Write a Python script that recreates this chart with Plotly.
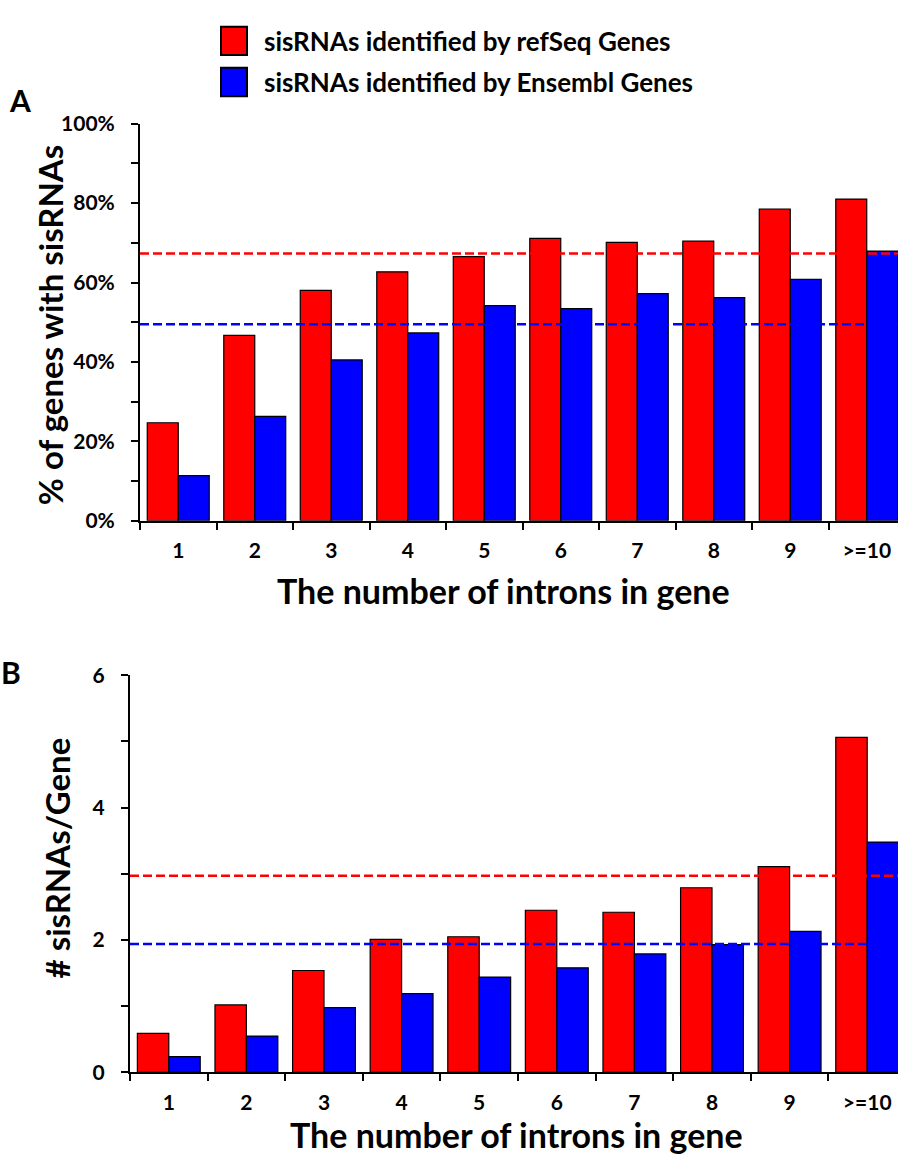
import plotly.graph_objects as go

# ---------------- data ----------------
categories = ["1", "2", "3", "4", "5", "6", "7", "8", "9", ">=10"]
refseq_pct = [24.7, 46.7, 58.0, 62.7, 66.5, 71.1, 70.1, 70.4, 78.5, 81.0]
ensembl_pct = [11.4, 26.3, 40.5, 47.3, 54.2, 53.4, 57.2, 56.2, 60.8, 67.9]
refseq_avg_pct = 67.3
ensembl_avg_pct = 49.5

refseq_per_gene = [0.59, 1.02, 1.54, 2.01, 2.05, 2.45, 2.42, 2.79, 3.11, 5.06]
ensembl_per_gene = [0.24, 0.55, 0.98, 1.19, 1.44, 1.58, 1.79, 1.93, 2.13, 3.48]
refseq_avg_per_gene = 2.97
ensembl_avg_per_gene = 1.94

series_names = ["sisRNAs identified by refSeq Genes", "sisRNAs identified by Ensembl Genes"]
x_title = "The number of introns in gene"
y_title_a = "% of genes with sisRNAs"
y_title_b = "# sisRNAs/Gene"

# ---------------- style ----------------
W, H = 898, 1164
FONT = "Lato"
RED = "#ff0000"
BLUE = "#0000ff"


def px_x(v):
    return v / W


def px_y(v):
    return 1 - v / H


fig = go.Figure()

for vals, name, col in [(refseq_pct, series_names[0], RED), (ensembl_pct, series_names[1], BLUE)]:
    fig.add_trace(go.Bar(x=categories, y=vals, name=name, marker=dict(color=col, line=dict(color="black", width=1.2)),
                         xaxis="x", yaxis="y", showlegend=False))
for vals, name, col in [(refseq_per_gene, series_names[0], RED), (ensembl_per_gene, series_names[1], BLUE)]:
    fig.add_trace(go.Bar(x=categories, y=vals, name=name, marker=dict(color=col, line=dict(color="black", width=1.2)),
                         xaxis="x2", yaxis="y2", showlegend=False))

tickfont = dict(family=FONT, size=21, color="black", weight="bold")

common_x = dict(type="category", tickson="boundaries", ticks="outside", ticklen=7, tickwidth=2,
                tickcolor="black", showline=True, linecolor="black", linewidth=2, showgrid=False,
                zeroline=False, tickfont=tickfont, ticklabelstandoff=10, fixedrange=True)
common_y = dict(ticks="outside", ticklen=7, tickwidth=2, tickcolor="black", showline=True,
                linecolor="black", linewidth=2, showgrid=False, zeroline=False, tickfont=tickfont,
                ticklabelstandoff=12)

fig.update_layout(
    width=W, height=H,
    margin=dict(l=0, r=0, t=0, b=0),
    paper_bgcolor="white", plot_bgcolor="white",
    barmode="group", bargap=0.19, bargroupgap=0,
    font=dict(family=FONT, color="black"),
    xaxis=dict(domain=[px_x(140), 1], anchor="y", range=[-0.5, -0.5 + 758 / 76.5], **common_x),
    yaxis=dict(domain=[px_y(518), px_y(112)], anchor="x", range=[0, 100], dtick=20, ticksuffix="%",
               minor=dict(dtick=10, ticks="outside", ticklen=7, tickwidth=2, tickcolor="black"), **common_y),
    xaxis2=dict(domain=[px_x(130), 1], anchor="y2", range=[-0.5, -0.5 + 768 / 77.6], **common_x),
    yaxis2=dict(domain=[px_y(1081.7), px_y(675.7)], anchor="x2", range=[0, 6], dtick=2,
                minor=dict(dtick=1, ticks="outside", ticklen=7, tickwidth=2, tickcolor="black"), **common_y),
)

# average reference lines
for xr, yr, val, col in [("x domain", "y", refseq_avg_pct, RED), ("x domain", "y", ensembl_avg_pct, BLUE),
                         ("x2 domain", "y2", refseq_avg_per_gene, RED), ("x2 domain", "y2", ensembl_avg_per_gene, BLUE)]:
    fig.add_shape(type="line", xref=xr, yref=yr, x0=0, x1=1, y0=val, y1=val,
                  line=dict(color=col, width=2.5, dash="9px,4px"), layer="above")

# legend (drawn manually to get large swatches)
for i, (name, col) in enumerate(zip(series_names, [RED, BLUE])):
    top = 13 + i * 42
    fig.add_shape(type="rect", xref="paper", yref="paper", x0=px_x(221), x1=px_x(247),
                  y0=px_y(top + 29), y1=px_y(top), fillcolor=col, line=dict(color="black", width=2))
    fig.add_annotation(text=name, xref="paper", yref="paper", x=px_x(262), y=px_y(top + 14.5),
                       xanchor="left", yanchor="middle", showarrow=False,
                       font=dict(family=FONT, size=26, color="black", weight="bold"))

title_font = dict(family=FONT, size=34, color="black", weight="bold")
# axis titles
fig.add_annotation(text=x_title, xref="paper", yref="paper", x=px_x(503), y=px_y(589), xanchor="center",
                   yanchor="middle", showarrow=False, font=title_font)
fig.add_annotation(text=x_title, xref="paper", yref="paper", x=px_x(516), y=px_y(1145), xanchor="center",
                   yanchor="middle", showarrow=False, font=title_font)
fig.add_annotation(text=y_title_a, xref="paper", yref="paper", x=px_x(50), y=px_y(318), xanchor="center",
                   yanchor="middle", showarrow=False, textangle=-90,
                   font=dict(family=FONT, size=33, color="black", weight="bold"))
fig.add_annotation(text=y_title_b, xref="paper", yref="paper", x=px_x(57), y=px_y(863), xanchor="center",
                   yanchor="middle", showarrow=False, textangle=-90,
                   font=dict(family=FONT, size=33, color="black", weight="bold"))

# panel labels
panel_font = dict(family=FONT, size=30, color="black", weight="bold")
fig.add_annotation(text="A", xref="paper", yref="paper", x=px_x(20), y=px_y(88), xanchor="center",
                   yanchor="middle", showarrow=False, font=panel_font)
fig.add_annotation(text="B", xref="paper", yref="paper", x=px_x(11), y=px_y(672), xanchor="center",
                   yanchor="middle", showarrow=False, font=panel_font)

fig.write_html("out.html", config={"displayModeBar": False},
               post_script="document.body.style.margin='0';document.body.style.overflow='hidden';")
